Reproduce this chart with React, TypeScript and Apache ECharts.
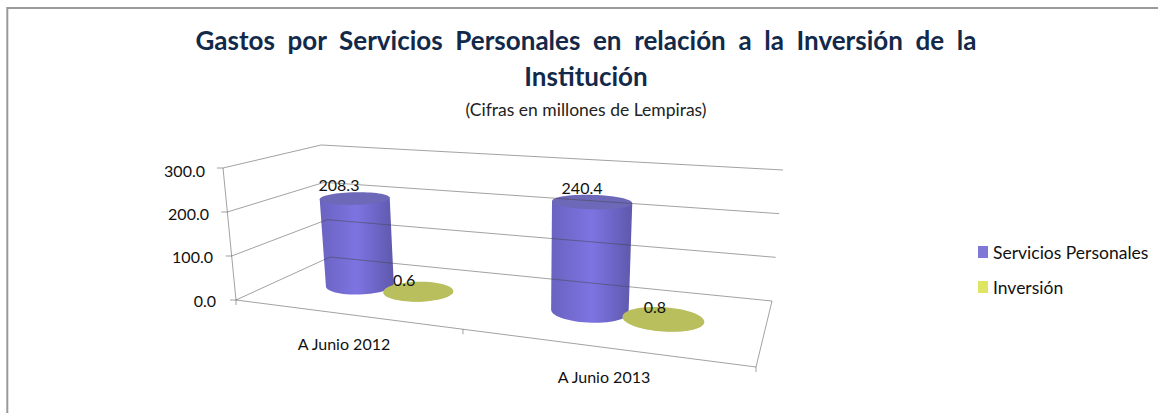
import React, { useEffect, useRef } from "react";
import * as echarts from "echarts";

const categories = ["A Junio 2012", "A Junio 2013"];
const serviciosPersonales = [208.3, 240.4];
const inversion = [0.6, 0.8];
const yTicks = [0, 100, 200, 300];
const titleText =
  "Gastos  por  Servicios  Personales  en  relación  a  la  Inversión  de  la\nInstitución";
const subtitleText = "(Cifras en millones de Lempiras)";

type Pt = number[];
const FONT = "Lato";
const GRID = { left: 214, top: 170, width: 520, height: 130 };

// Corners of the 3D floor on the page: front-left, front-right, back-right, back-left
const floorQuad: Pt[] = [[236, 300], [756, 367], [772, 301], [330, 257]];

function quadMap(q: Pt[]) {
  const [[x0, y0], [x1, y1], [x2, y2], [x3, y3]] = q;
  const dx1 = x1 - x2, dx2 = x3 - x2, sx = x0 - x1 + x2 - x3;
  const dy1 = y1 - y2, dy2 = y3 - y2, sy = y0 - y1 + y2 - y3;
  const den = dx1 * dy2 - dx2 * dy1;
  const g = (sx * dy2 - dx2 * sy) / den;
  const h = (dx1 * sy - sx * dy1) / den;
  const a = x1 - x0 + g * x1, b = x3 - x0 + h * x3;
  const d = y1 - y0 + g * y1, e = y3 - y0 + h * y3;
  return (u: number, v: number): Pt => {
    const w = g * u + h * v + 1;
    return [(a * u + b * v + x0) / w, (d * u + e * v + y0) / w];
  };
}
const floorMap = quadMap(floorQuad);
// A full-height vertical leans and grows with where it stands on the floor.
function project(u: number, v: number, h: number): Pt {
  const [x, y] = floorMap(u, v);
  const lean = -13 + (x - 236) * 0.0448;
  const lift = 132 - 0.00272 * (x - 236) + 0.459 * (y - 300);
  return [x + lean * h, y - lift * h];
}

const toU = (px: number) => (px - GRID.left) / GRID.width;
const toH = (py: number) => (GRID.top + GRID.height - py) / GRID.height;

const BAR_V = 0.5, RU = 0.073, RV = 0.19, N = 64;
const GRID_STROKE = "rgba(70,70,70,0.5)";

function ring(u: number, h: number): Pt[] {
  const pts: Pt[] = [];
  for (let i = 0; i < N; i++) {
    const t = (i / N) * Math.PI * 2;
    pts.push(project(u + RU * Math.cos(t), BAR_V + RV * Math.sin(t), h));
  }
  return pts;
}

function makeCylinder(offset: number, colors: { top: string; side: string[] }) {
  return (_params: any, api: any) => {
    const [px, py] = api.coord([api.value(0), api.value(1)]);
    const u = toU(px) + offset;
    const h = toH(py);
    const base = ring(u, 0);
    const top = ring(u, h);
    const extreme = (pts: Pt[], sign: number) => {
      let best = 0;
      pts.forEach((p, i) => { if (sign * p[0] > sign * pts[best][0]) best = i; });
      return best;
    };
    const bl = extreme(base, -1), br = extreme(base, 1);
    const outline: Pt[] = [];
    outline.push(top[extreme(top, -1)]);
    for (let i = bl; ; i = (i + 1) % N) {
      outline.push(base[i]);
      if (i === br) break;
    }
    outline.push(top[extreme(top, 1)]);
    const c = project(u, BAR_V, h);
    const children: any[] = [];
    children.push({
      type: "polygon",
      shape: { points: outline },
      style: {
        fill: new echarts.graphic.LinearGradient(0, 0, 1, 0, colors.side.map((color, i) => ({
          offset: i / (colors.side.length - 1),
          color,
        }))),
      },
    });
    children.push({ type: "polygon", shape: { points: top }, style: { fill: colors.top } });
    children.push({
      type: "text",
      z2: 50,
      x: c[0] - 18 + 12 * u,
      y: c[1] - 12 - 3 * h,
      style: {
        text: Number(api.value(1)).toFixed(1),
        fontFamily: FONT,
        fontSize: 16,
        fill: "#111",
        align: "center",
        verticalAlign: "middle",
      },
    });
    return { type: "group", children };
  };
}

function renderFrame(_params: any, api: any) {
  const [, py] = api.coord([0, api.value(0)]);
  const h = toH(py);
  const line = (a: Pt, b: Pt) => ({
    type: "line",
    shape: { x1: a[0], y1: a[1], x2: b[0], y2: b[1] },
    style: { stroke: GRID_STROKE, lineWidth: 1, fill: "none" },
  });
  const fl = project(0, 0, h), bl = project(0, 1, h), br = project(1, 1, h);
  const children: any[] = [line(fl, bl), line(bl, br), line([fl[0] - 6, fl[1]], fl)];
  if (api.value(0) === 0) {
    const fr = project(1, 0, 0);
    const flTop = project(0, 0, 1);
    children.push(line(fl, fr), line(fr, br), line(fl, flTop));
    for (const u of [0, 0.5, 1]) {
      const p = project(u, 0, 0);
      children.push(line(p, [p[0], p[1] + 5]));
    }
  }
  return { type: "group", children };
}

const labelStyle = { fontFamily: FONT, fontSize: 16, color: "#111" };

export default function App() {
  const ref = useRef<HTMLDivElement>(null);
  useEffect(() => {
    const chart = echarts.init(ref.current!, null, { renderer: "svg" });
    chart.setOption({
      animation: false,
      backgroundColor: "#fff",
      title: {
        left: 581,
        top: 17,
        textAlign: "center",
        text: titleText,
        subtext: subtitleText,
        itemGap: 6,
        textStyle: { fontFamily: FONT, fontSize: 26, fontWeight: "bold", color: "#12294a", lineHeight: 36 },
        subtextStyle: { fontFamily: FONT, fontSize: 17.5, color: "#222" },
      },
      legend: {
        orient: "vertical",
        left: 978,
        top: 243,
        padding: 0,
        itemWidth: 10,
        itemHeight: 12,
        itemGap: 17,
        itemStyle: { borderWidth: 0 },
        icon: "rect",
        data: ["Servicios Personales", "Inversión"],
        textStyle: { fontFamily: FONT, fontSize: 17.5, color: "#111" },
        selectedMode: false,
      },
      grid: { ...GRID, containLabel: false },
      xAxis: {
        type: "category",
        data: categories,
        axisLine: { show: false },
        axisTick: { show: false },
        splitLine: { show: false },
        axisLabel: {
          interval: 0,
          margin: 35,
          formatter: (_v: string, i: number) => `{${i === 0 ? "a" : "b"}|${categories[i]}}`,
          rich: {
            a: { ...labelStyle, height: 16, lineHeight: 16 },
            b: { ...labelStyle, height: 16, lineHeight: 16, padding: [66, 0, 0, 0] },
          },
        },
      },
      yAxis: {
        type: "value",
        min: 0,
        max: 300,
        interval: 100,
        axisLine: { show: false },
        axisTick: { show: false },
        splitLine: { show: false },
        axisLabel: {
          margin: -2,
          formatter: (v: number) => `{r${v}|${v.toFixed(1)}}`,
          rich: {
            r0: { ...labelStyle, padding: [0, 0, 0, 0] },
            r100: { ...labelStyle, padding: [0, 3, 0, 0] },
            r200: { ...labelStyle, padding: [0, 7, 0, 0] },
            r300: { ...labelStyle, padding: [0, 11, 0, 0] },
          },
        },
      },
      graphic: [
        {
          type: "polyline",
          silent: true,
          shape: { points: [[7.3, 413], [7.3, 8], [1158, 8]] },
          style: { stroke: "#9a9a9a", lineWidth: 2, fill: "none" },
        },
      ],
      series: [
        {
          type: "custom",
          name: "Servicios Personales",
          z: 2,
          itemStyle: { color: "#8177d6" },
          encode: { x: 0, y: 1 },
          data: categories.map((c, i) => [c, serviciosPersonales[i]]),
          renderItem: makeCylinder(-0.065, {
            top: "#6e68b8",
            side: ["#6a63c0", "#7d74e2", "#5f58ac"],
          }),
        },
        {
          type: "custom",
          name: "Inversión",
          z: 3,
          itemStyle: { color: "#dde563" },
          encode: { x: 0, y: 1 },
          data: categories.map((c, i) => [c, inversion[i]]),
          renderItem: makeCylinder(0.073, {
            top: "#b8bf5c",
            side: ["#b8bf5c", "#b8bf5c", "#b8bf5c"],
          }),
        },
        {
          type: "custom",
          name: "gridlines",
          z: 4,
          silent: true,
          encode: { y: 0 },
          data: yTicks.map((t) => [t]),
          renderItem: renderFrame,
        },
      ],
    });
    return () => chart.dispose();
  }, []);
  return (
    <div
      ref={ref}
      style={{ position: "absolute", left: 0, top: 0, width: 1158, height: 413 }}
    />
  );
}
